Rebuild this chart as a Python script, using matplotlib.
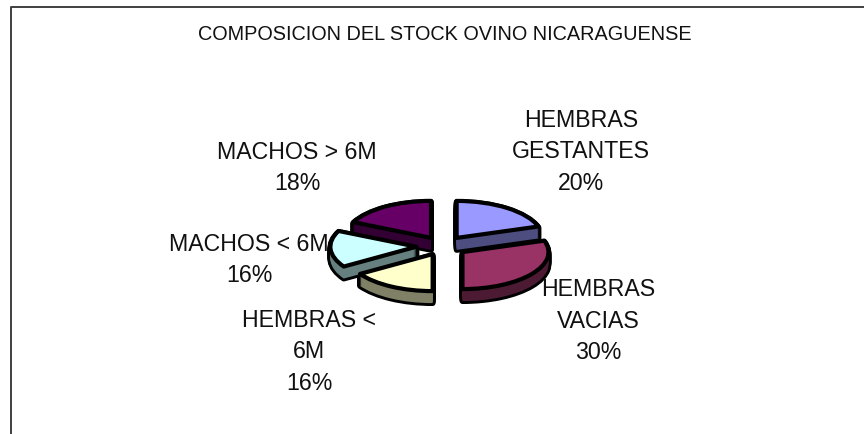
import matplotlib
matplotlib.use('Agg')
import matplotlib.pyplot as plt

plt.rcParams['font.family'] = ['Liberation Sans', 'DejaVu Sans']

title = 'COMPOSICION DEL STOCK OVINO NICARAGUENSE'
labels = ['HEMBRAS\nGESTANTES\n20%', 'HEMBRAS\nVACIAS\n30%', 'HEMBRAS <\n6M\n16%',
          'MACHOS < 6M\n16%', 'MACHOS > 6M\n18%']
values = [20, 30, 16, 16, 18]
top_colors = ['#9999ff', '#993366', '#ffffcc', '#ccffff', '#660066']
side_colors = ['#4d4d80', '#4d1a33', '#808066', '#668080', '#330033']
explode = [0.27, 0.28, 0.25, 0.31, 0.26]
label_xy = [(581, 152), (598, 321), (309, 352), (249, 260), (297, 168)]

W, H = 864, 435
fig = plt.figure(figsize=(W / 100, H / 100), dpi=100)
ax = fig.add_axes([0, 0, 1, 1])

# pixel geometry of the flattened pie
cx, cy, rx, ry, depth = 443, 247, 86, 37, 12


def layer(d, colors, edge):
    wp = {'edgecolor': 'black', 'linewidth': edge, 'joinstyle': 'round'} if edge else {'linewidth': 0}
    ax.pie(values, explode=explode, startangle=90, counterclock=False, colors=colors,
           center=(0, -d / ry), radius=1, wedgeprops=wp)


# black silhouette of the extrusion, then the side colour, then the top face
for d in range(depth, 0, -1):
    layer(d, side_colors, 4.2)
for d in range(depth, 0, -1):
    layer(d, side_colors, 0)
layer(0, top_colors, 3.0)

ax.set_aspect('auto')
ax.set_xlim(-cx / rx, (W - cx) / rx)
ax.set_ylim(-(H - cy) / ry, cy / ry)
ax.axis('off')

fig.text(445 / W, 1 - 34 / H, title, fontsize=14.3, ha='center', va='center', color='#111111')
for lab, (x, y) in zip(labels, label_xy):
    fig.text(x / W, 1 - y / H, lab, fontsize=16.7, ha='center', va='center',
             linespacing=1.45, color='#111111')

# chart frame: left and top only, the picture cuts off the rest
fig.add_artist(plt.Line2D([11 / W, 11 / W, 1], [0, 1 - 8 / H, 1 - 8 / H],
                          color='#404040', lw=1.4))

fig.savefig('out.png', dpi=100)
